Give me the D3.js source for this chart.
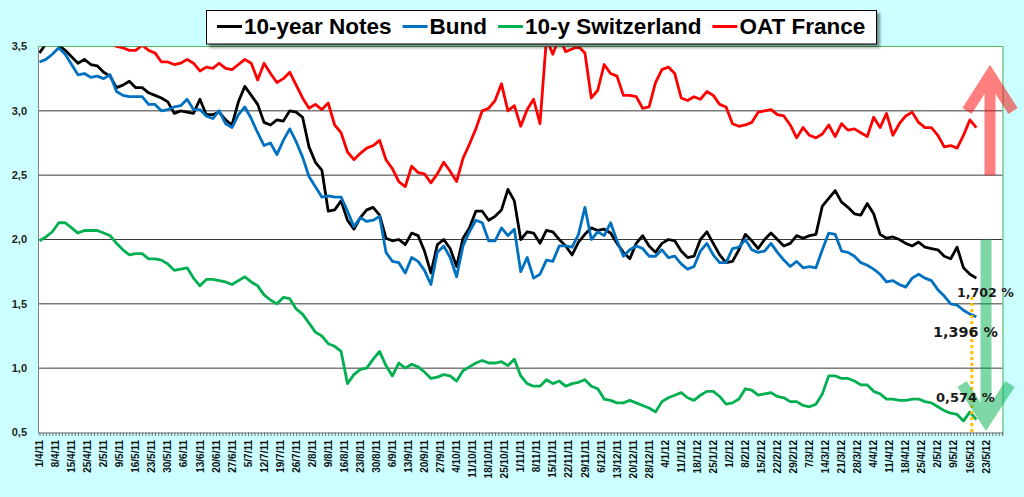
<!DOCTYPE html>
<html><head><meta charset="utf-8">
<script src="https://cdn.jsdelivr.net/npm/d3@7"></script>
<style>html,body{margin:0;padding:0;background:#ccffff;}svg{display:block}</style>
</head><body><svg id="c" width="1024" height="497"></svg>
<script>
// ---------- data ----------
const xTickLabels = ["1/4/11","8/4/11","15/4/11","25/4/11","2/5/11","9/5/11","16/5/11","23/5/11","30/5/11","6/6/11",
"13/6/11","20/6/11","27/6/11","5/7/11","12/7/11","19/7/11","26/7/11","2/8/11","9/8/11","16/8/11",
"23/8/11","30/8/11","6/9/11","13/9/11","20/9/11","27/9/11","4/10/11","11/10/11","18/10/11","25/10/11",
"1/11/11","8/11/11","15/11/11","22/11/11","29/11/11","6/12/11","13/12/11","20/12/11","28/12/11","4/1/12",
"11/1/12","18/1/12","25/1/12","1/2/12","8/2/12","15/2/12","22/2/12","29/2/12","7/3/12","14/3/12",
"21/3/12","28/3/12","4/4/12","11/4/12","18/4/12","25/4/12","2/5/12","9/5/12","16/5/12","23/5/12"];
const yTicks = [0.5,1.0,1.5,2.0,2.5,3.0,3.5];
const yTickLabels = ["0,5","1,0","1,5","2,0","2,5","3,0","3,5"];
const seriesNames = ["10-year Notes","Bund","10-y Switzerland","OAT France"];
const seriesColors = ["#000000","#0070c0","#00b050","#ff0000"];
// one value every 2 trading days, starting 1/4/11
const notes = [3.45,3.52,3.54,3.51,3.47,3.42,3.37,3.40,3.36,3.35,3.30,3.27,3.18,3.20,3.23,3.18,3.18,3.14,3.12,3.10,
3.07,2.98,3.00,2.99,2.98,3.09,2.97,2.97,2.99,2.93,2.89,3.07,3.19,3.12,3.05,2.91,2.89,2.93,2.92,3.00,
2.99,2.95,2.72,2.60,2.54,2.22,2.23,2.30,2.15,2.08,2.17,2.23,2.25,2.19,2.01,1.99,2.00,1.96,2.05,2.03,
1.91,1.74,1.96,2.00,1.93,1.79,2.01,2.09,2.22,2.22,2.15,2.18,2.23,2.39,2.30,2.00,2.06,2.05,1.97,2.07,
2.06,2.00,1.95,1.88,1.98,2.04,2.09,2.07,2.08,2.05,1.97,1.90,1.85,1.97,2.03,1.95,1.90,1.97,2.00,1.99,
1.91,1.86,1.87,2.00,2.06,1.97,1.88,1.82,1.83,1.92,2.04,1.99,1.93,2.00,2.05,2.00,1.95,1.97,2.03,2.01,
2.03,2.04,2.26,2.32,2.38,2.29,2.25,2.20,2.19,2.28,2.20,2.04,2.01,2.02,2.00,1.97,1.95,1.98,1.94,1.93,
1.92,1.87,1.85,1.94,1.78,1.73,1.70];
const bund = [3.38,3.40,3.44,3.49,3.44,3.36,3.28,3.29,3.26,3.27,3.25,3.28,3.15,3.12,3.11,3.11,3.11,3.05,3.05,3.00,
3.01,3.03,3.04,3.09,3.01,3.01,2.96,2.94,3.00,2.90,2.87,2.97,3.03,2.94,2.83,2.73,2.75,2.66,2.77,2.86,
2.76,2.64,2.49,2.41,2.33,2.34,2.33,2.33,2.22,2.10,2.17,2.14,2.15,2.18,1.90,1.83,1.82,1.74,1.86,1.83,
1.76,1.65,1.90,1.95,1.86,1.71,1.95,2.06,2.15,2.13,1.99,1.99,2.09,2.03,2.08,1.75,1.86,1.70,1.73,1.84,
1.83,1.95,1.95,1.94,2.04,2.25,2.00,2.06,2.03,2.13,1.99,1.87,1.92,1.95,1.93,1.87,1.87,1.92,1.86,1.87,
1.81,1.77,1.79,1.91,1.97,1.88,1.82,1.82,1.93,1.94,2.00,1.92,1.90,1.91,1.97,1.90,1.84,1.79,1.83,1.78,
1.79,1.78,1.92,2.05,2.04,1.91,1.90,1.87,1.82,1.80,1.77,1.73,1.67,1.68,1.65,1.63,1.70,1.73,1.70,1.68,
1.61,1.56,1.50,1.49,1.45,1.42,1.40];
const swiss = [1.99,2.02,2.06,2.13,2.13,2.09,2.05,2.07,2.07,2.07,2.05,2.03,1.97,1.92,1.88,1.89,1.89,1.85,1.85,1.84,
1.81,1.76,1.77,1.78,1.70,1.64,1.69,1.69,1.68,1.67,1.65,1.68,1.71,1.67,1.64,1.57,1.53,1.50,1.55,1.54,
1.46,1.42,1.35,1.28,1.25,1.19,1.17,1.13,0.88,0.95,0.99,1.00,1.07,1.13,1.02,0.94,1.04,1.00,1.03,1.01,
0.97,0.92,0.93,0.95,0.94,0.90,0.98,1.01,1.04,1.06,1.04,1.04,1.05,1.02,1.07,0.94,0.88,0.86,0.86,0.91,
0.88,0.90,0.86,0.88,0.89,0.91,0.86,0.84,0.76,0.75,0.73,0.73,0.75,0.73,0.71,0.69,0.66,0.74,0.77,0.79,
0.81,0.77,0.75,0.79,0.82,0.82,0.78,0.72,0.73,0.76,0.84,0.83,0.79,0.80,0.81,0.78,0.77,0.74,0.74,0.71,
0.70,0.72,0.80,0.94,0.94,0.92,0.92,0.90,0.87,0.87,0.82,0.80,0.76,0.76,0.75,0.75,0.76,0.76,0.74,0.73,
0.70,0.67,0.65,0.64,0.59,0.66,0.60];
const oat = [3.62,3.65,3.66,3.64,3.63,3.61,3.60,3.58,3.60,3.57,3.55,3.53,3.50,3.49,3.47,3.47,3.51,3.47,3.45,3.38,
3.38,3.36,3.37,3.40,3.37,3.31,3.34,3.33,3.37,3.33,3.32,3.36,3.40,3.37,3.24,3.37,3.29,3.22,3.25,3.30,
3.20,3.10,3.02,3.05,3.01,3.06,2.89,2.83,2.68,2.62,2.67,2.71,2.73,2.77,2.62,2.55,2.45,2.41,2.57,2.52,
2.51,2.44,2.51,2.60,2.53,2.45,2.63,2.74,2.86,3.00,3.02,3.08,3.21,3.00,3.04,2.88,3.01,3.09,2.90,3.56,
3.44,3.57,3.46,3.48,3.50,3.45,3.10,3.16,3.36,3.29,3.27,3.12,3.12,3.11,3.02,3.03,3.22,3.32,3.34,3.29,
3.10,3.08,3.11,3.09,3.15,3.12,3.05,3.03,2.90,2.88,2.89,2.91,2.99,3.00,3.01,2.97,2.96,2.89,2.79,2.87,
2.81,2.79,2.82,2.89,2.80,2.90,2.85,2.86,2.83,2.80,2.95,2.87,2.98,2.81,2.90,2.96,2.99,2.91,2.87,2.87,
2.81,2.72,2.73,2.71,2.81,2.93,2.87];
const series = [notes,bund,swiss,oat];
const stride = 2;          // trading days between stored values
const nCategories = 300;   // category slots on the x axis
const endLabels = ["1,702 %","1,396 %","0,574 %"];

// ---------- layout ----------
const W=1024,H=497;
const L=38.5,R=1003,T=46.5,B=432.5;
const x=d3.scaleLinear().domain([0,nCategories]).range([39.5,1002]);
const y=d3.scaleLinear().domain([0.5,3.5]).range([B,T]);
const svg=d3.select("#c");
const defs=svg.append("defs");
defs.append("clipPath").attr("id","clip").append("rect")
  .attr("x",L).attr("y",T).attr("width",R-L).attr("height",B-T);
const f=defs.append("filter").attr("id","sh").attr("x","-5%").attr("y","-30%").attr("width","110%").attr("height","170%");
f.append("feDropShadow").attr("dx",3).attr("dy",3).attr("stdDeviation",1.5).attr("flood-color","#000").attr("flood-opacity",0.45);

svg.append("rect").attr("width",W).attr("height",H).attr("fill","#ccffff");
svg.append("rect").attr("x",L).attr("y",T).attr("width",R-L).attr("height",B-T).attr("fill","#fff");

// gridlines
svg.append("g").selectAll("line").data(yTicks.slice(1,-1)).join("line")
  .attr("x1",L).attr("x2",R).attr("y1",d=>y(d)).attr("y2",d=>y(d))
  .attr("stroke","#3a3a3a").attr("stroke-width",1);
// plot border top/right (green)
svg.append("line").attr("x1",L).attr("x2",R).attr("y1",y(3.5)).attr("y2",y(3.5)).attr("stroke","#4fb85a").attr("stroke-width",1.2);
svg.append("line").attr("x1",R).attr("x2",R).attr("y1",T).attr("y2",B+3).attr("stroke","#7ccf94").attr("stroke-width",1.6);

// x axis with a tick per category
const xAxis=d3.axisBottom(x).tickValues(d3.range(0,nCategories+1)).tickSize(3.5).tickSizeOuter(0).tickFormat("");
const gx=svg.append("g").attr("transform",`translate(0,${B})`).call(xAxis);
gx.select(".domain").attr("stroke","#777").attr("d",`M${L},0.5H${R}`);
gx.selectAll(".tick line").attr("stroke","#555").attr("stroke-width",0.8);
svg.append("g").selectAll("text").data(xTickLabels).join("text")
  .attr("transform",(d,i)=>`translate(${x(i*5)},440) rotate(-90)`)
  .attr("text-anchor","end").attr("dy","0.36em")
  .style("font","bold 10px 'Liberation Sans', Arial, sans-serif").attr("fill","#111")
  .text(d=>d);
// y axis
svg.append("line").attr("x1",L).attr("x2",L).attr("y1",T).attr("y2",B+1).attr("stroke","#808080").attr("stroke-width",1);
svg.append("g").selectAll("text").data(yTicks).join("text")
  .attr("x",27).attr("y",d=>y(d)).attr("dy","0.36em").attr("text-anchor","end")
  .style("font","bold 11px 'Liberation Sans', Arial, sans-serif").attr("fill","#222")
  .text((d,i)=>yTickLabels[i]);

// series lines
const line=d3.line().x((d,i)=>x(i*stride)).y(d=>y(d));
const gl=svg.append("g").attr("clip-path","url(#clip)");
series.forEach((s,j)=>{
  gl.append("path").datum(s).attr("d",line).attr("fill","none")
    .attr("stroke",seriesColors[j]).attr("stroke-width",2.8).attr("stroke-linejoin","round");
});

// orange dotted marker
const lastIdx=(notes.length-1)*stride;
svg.append("line").attr("x1",x(lastIdx-1.4)).attr("x2",x(lastIdx-1.4)).attr("y1",297).attr("y2",B)
  .attr("stroke","#ffc000").attr("stroke-width",3).attr("stroke-dasharray","3,3");

// arrows
const ra=svg.append("g").attr("opacity",0.5);
ra.append("path").attr("d",`M990,${y(2.5)}V80`).attr("stroke","#ff0000").attr("stroke-width",11).attr("fill","none");
ra.append("path").attr("d","M967,111L990,75L1013,111").attr("stroke","#ff0000").attr("stroke-width",11).attr("fill","none").attr("stroke-linejoin","miter");
const ga=svg.append("g").attr("opacity",0.5);
ga.append("path").attr("d",`M986,${y(2.0)}V415`).attr("stroke","#00b050").attr("stroke-width",11).attr("fill","none");
ga.append("path").attr("d","M962,384L986,421L1010,384").attr("stroke","#00b050").attr("stroke-width",11).attr("fill","none").attr("stroke-linejoin","miter");

// end value labels
const lf="'DejaVu Sans', Verdana, sans-serif";
svg.append("text").attr("x",957).attr("y",297).style("font",`bold 12.6px ${lf}`).attr("fill","#1a1a1a").text(endLabels[0]);
svg.append("text").attr("x",933).attr("y",337).style("font",`bold 14.4px ${lf}`).attr("fill","#1a1a1a").text(endLabels[1]);
svg.append("text").attr("x",936).attr("y",401.5).style("font",`bold 13px ${lf}`).attr("fill","#1a1a1a").text(endLabels[2]);

// legend
const lg=svg.append("g");
const box=lg.append("rect").attr("x",206.5).attr("y",10.5).attr("width",670).attr("height",33.5)
  .attr("fill","#fff").attr("stroke","#000").attr("stroke-width",1).attr("filter","url(#sh)");
let cx=217;
seriesNames.forEach((n,j)=>{
  lg.append("line").attr("x1",cx).attr("x2",cx+25).attr("y1",26.5).attr("y2",26.5)
    .attr("stroke",seriesColors[j]).attr("stroke-width",3);
  const t=lg.append("text").attr("x",cx+27).attr("y",34.3)
    .style("font","bold 22.5px 'Liberation Sans', Arial, sans-serif").attr("fill","#000").text(n);
  cx+=27+t.node().getComputedTextLength()+11;
});
box.attr("width",Math.max(670,cx-11+9-206.5));
</script></body></html>
